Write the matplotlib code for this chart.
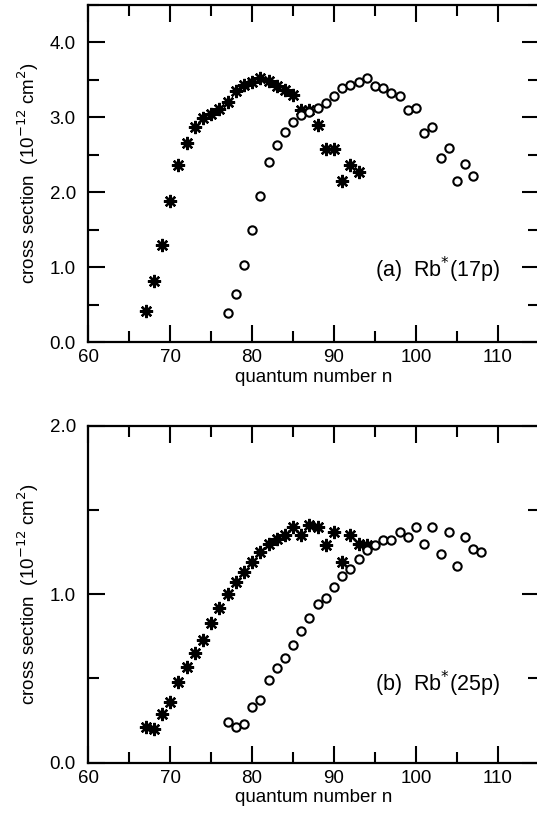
import matplotlib.pyplot as plt
from matplotlib.ticker import MultipleLocator

plt.rcParams["font.family"] = ["Liberation Sans", "DejaVu Sans"]

# panel (a): Rb*(17p)
n_star_a = list(range(67, 94))
cs_star_a = [0.42, 0.81, 1.30, 1.88, 2.36, 2.66, 2.87, 2.99, 3.04, 3.11,
             3.21, 3.35, 3.43, 3.47, 3.53, 3.49, 3.42, 3.37, 3.30, 3.10,
             3.10, 2.90, 2.58, 2.58, 2.15, 2.36, 2.27]
n_circ_a = list(range(77, 108))
cs_circ_a = [0.39, 0.64, 1.03, 1.50, 1.95, 2.40, 2.63, 2.81, 2.94, 3.03,
             3.07, 3.13, 3.19, 3.28, 3.39, 3.43, 3.47, 3.52, 3.42, 3.39,
             3.32, 3.28, 3.10, 3.13, 2.79, 2.87, 2.46, 2.59, 2.15, 2.38, 2.22]

# panel (b): Rb*(25p)
n_star_b = list(range(67, 95))
cs_star_b = [0.21, 0.20, 0.29, 0.36, 0.48, 0.57, 0.65, 0.73, 0.83, 0.92,
             1.00, 1.07, 1.13, 1.19, 1.25, 1.30, 1.33, 1.35, 1.40, 1.35,
             1.41, 1.40, 1.29, 1.37, 1.19, 1.35, 1.30, 1.29]
n_circ_b = list(range(77, 109))
cs_circ_b = [0.24, 0.21, 0.23, 0.33, 0.37, 0.49, 0.56, 0.62, 0.70, 0.78,
             0.86, 0.94, 0.98, 1.04, 1.11, 1.15, 1.21, 1.26, 1.29, 1.32,
             1.32, 1.37, 1.34, 1.40, 1.30, 1.40, 1.24, 1.37, 1.17, 1.34,
             1.27, 1.25]

fig = plt.figure(figsize=(5.37, 8.18), dpi=100)
ax_a = fig.add_axes([0.1644, 0.5819, 0.8390, 0.4120])
ax_b = fig.add_axes([0.1644, 0.0676, 0.8390, 0.4120])

panels = [
    (ax_a, n_star_a, cs_star_a, n_circ_a, cs_circ_a, 4.5, [0, 1, 2, 3, 4],
     "(a)  Rb$^{*}$(17p)", 0.96),
    (ax_b, n_star_b, cs_star_b, n_circ_b, cs_circ_b, 2.0, [0, 1, 2],
     "(b)  Rb$^{*}$(25p)", 0.47),
]

for ax, ns, cs, nc, cc, ymax, yt, label, ylab in panels:
    ax.plot(ns, cs, linestyle="none", marker=(8, 2, 0), markersize=9.5,
            markeredgewidth=1.7, color="black")
    ax.plot(nc, cc, linestyle="none", marker="o", markersize=6,
            markerfacecolor="white", markeredgecolor="black", markeredgewidth=1.5)
    ax.set_xlim(60, 115)
    ax.set_ylim(0, ymax)
    ax.set_xticks([60, 70, 80, 90, 100, 110])
    ax.xaxis.set_minor_locator(MultipleLocator(5))
    ax.set_yticks(yt)
    ax.set_yticklabels([f"{v:.1f}" for v in yt])
    ax.yaxis.set_minor_locator(MultipleLocator(0.5))
    ax.tick_params(which="both", direction="in", top=True, right=True,
                   labelsize=13.5, width=1.5)
    ax.tick_params(axis="x", pad=5)
    ax.tick_params(axis="y", pad=9)
    ax.tick_params(which="major", length=12)
    ax.tick_params(which="minor", length=8)
    for sp in ax.spines.values():
        sp.set_linewidth(1.6)
    ax.set_xlabel("quantum number n", fontsize=13.5, labelpad=2)
    ax.set_ylabel("cross section  (10$^{-12}$ cm$^{2}$)", fontsize=13.5, labelpad=6)
    ax.text(95, ylab, label, fontsize=15.5, ha="left", va="center")

fig.savefig("out.png", dpi=100)
